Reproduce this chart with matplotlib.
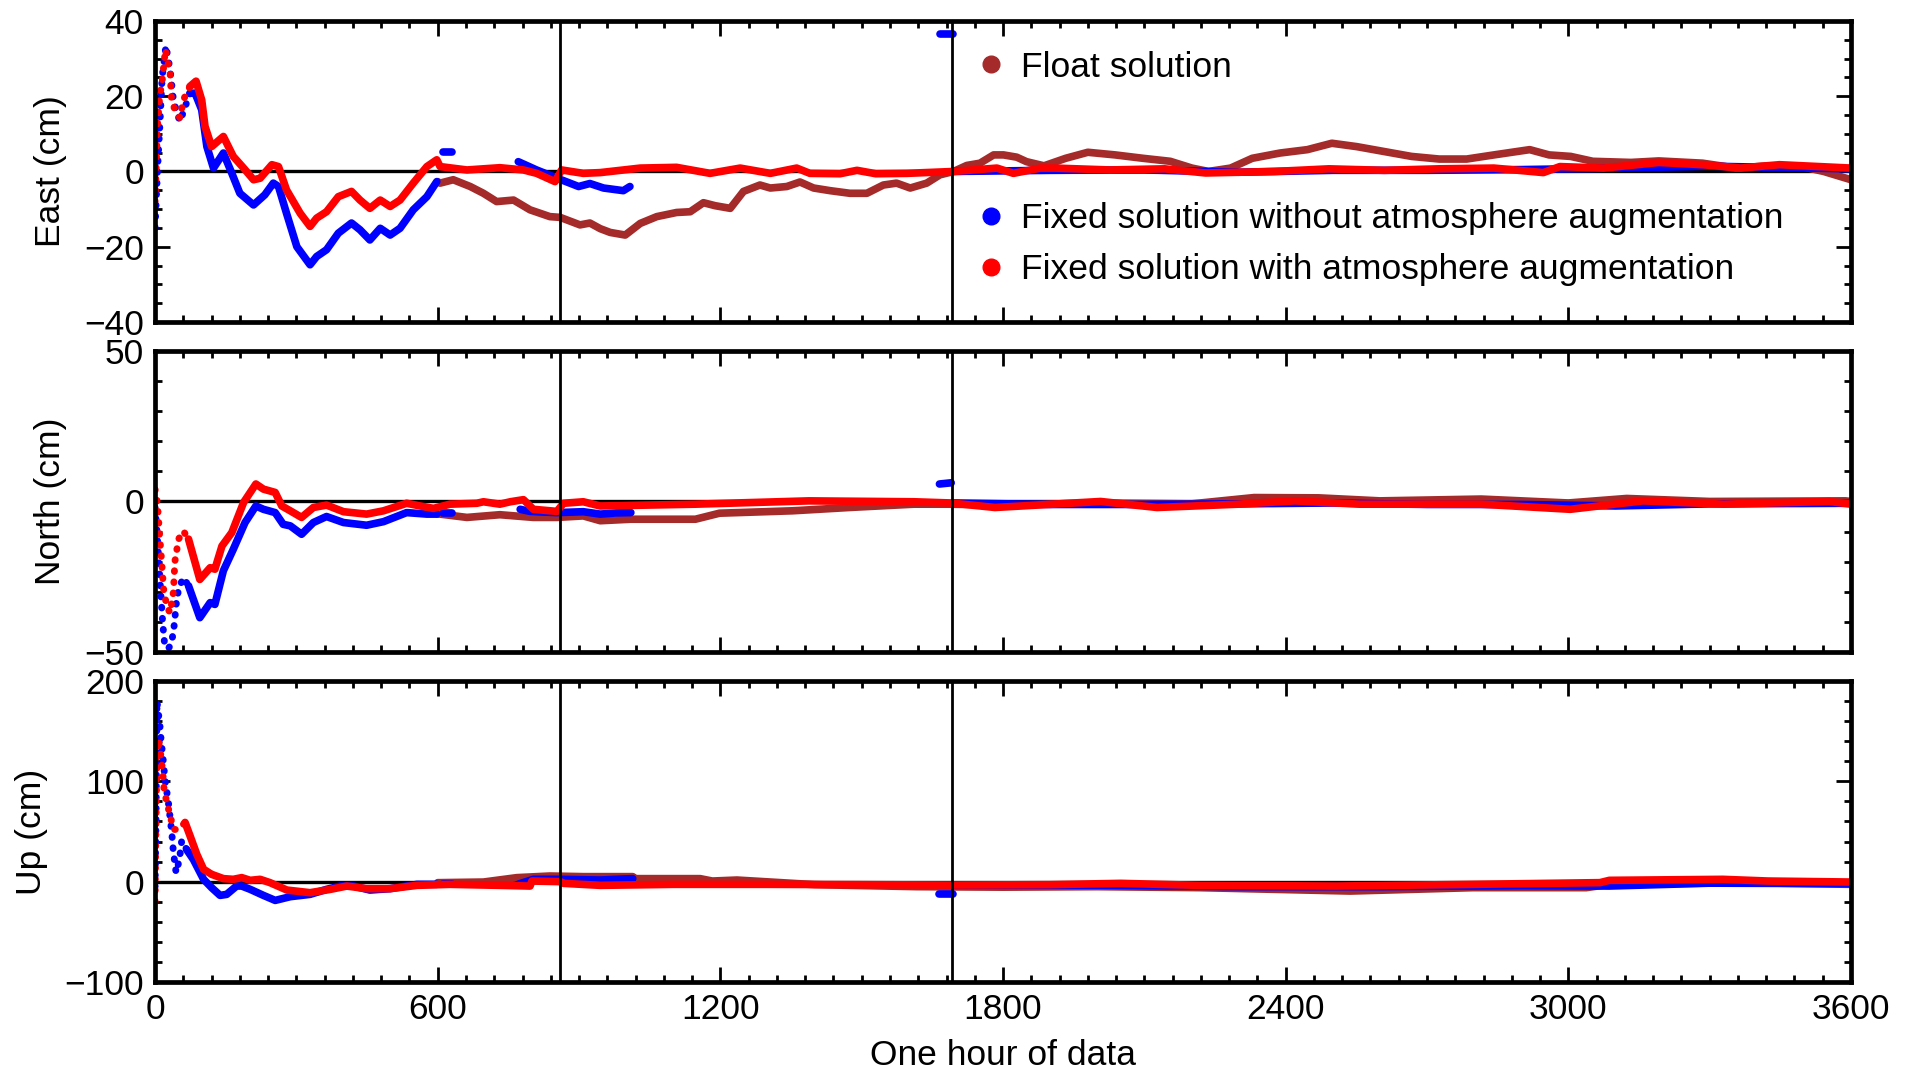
import numpy as np
import matplotlib
matplotlib.use("Agg")
from matplotlib import pyplot as plt
from matplotlib.ticker import MultipleLocator
from matplotlib.lines import Line2D

plt.rcParams['font.family'] = ['Liberation Sans', 'DejaVu Sans']

# ---------------- East (cm) ----------------
east_red_t = [0, 5, 10, 15, 22, 32, 35, 42, 53, 60, 74, 87, 99, 106, 120, 145, 166, 188, 209, 223,
              248, 262, 279, 308, 329, 343, 364, 389, 417, 435, 456, 478, 499, 520, 548, 577, 598,
              605, 662, 732, 782, 810, 849, 863, 909, 945, 1030, 1107, 1178, 1242, 1306, 1362, 1390,
              1454, 1490, 1530, 1596, 1695, 1787, 1822, 1879, 1910, 2027, 2143, 2230, 2376, 2492,
              2609, 2725, 2842, 2947, 2982, 3075, 3192, 3285, 3366, 3448, 3600]
east_red = [-8, 12, 20, 24, 32.4, 26, 19, 16.4, 14.2, 19, 22.6, 24, 19, 12, 6.6, 9.3, 4, 0.9, -2.2, -1.8,
            1.8, 1.3, -4.9, -11.1, -14.6, -12.4, -10.7, -6.7, -5.3, -7.6, -9.8, -7.6, -9.3, -7.6, -3.1, 1.3, 3.1,
            1.3, 0.4, 1.0, 0.4, -0.5, -2.7, 0.4, -0.5, -0.3, 0.9, 1.1, -0.5, 0.9, -0.5, 0.9, -0.5,
            -0.6, 0.3, -0.6, -0.5, 0, 0.9, -0.5, 0.9, 0.9, 0.4, 0.7, -0.4, 0, 0.7,
            0.3, 0.7, 0.9, -0.3, 1.3, 0.9, 2.4, 1.8, 0.9, 1.8, 0.9]

east_blue_t = [
    [0, 5, 10, 15, 23, 32, 38, 45, 53, 74, 85, 99, 110, 124, 145, 163, 180, 209, 233, 251, 262, 279,
     301, 329, 343, 364, 389, 417, 435, 456, 478, 499, 520, 548, 577, 598],
    [612, 630],
    [771, 810, 860, 899, 923, 952, 994, 1008],
    [1666, 1693],
    [1695, 1900, 2100, 2300, 2500, 2700, 2900, 3100, 3300, 3600],
]
east_blue = [
    [-15, 0, 12, 25, 33.4, 27, 20, 16, 13.3, 20.8, 20.8, 16.4, 6.6, 0.9, 4.9, -0.5, -5.8, -8.9, -6.2, -3.1, -4, -11.1,
     -20, -24.8, -22.6, -20.8, -16.4, -13.7, -15.5, -18.2, -15.1, -16.9, -15.1, -10.2, -6.7, -2.7],
    [5.1, 5.1],
    [2.6, 0.4, -2.1, -4, -3.2, -4.4, -5.1, -4],
    [36.4, 36.4],
    [0, 0.3, 0.4, -0.2, 0.3, 0.3, 0.5, 0.9, 1.4, 0.7],
]

east_float_t = [600, 605, 633, 669, 697, 725, 761, 796, 838, 860, 902, 923, 945, 966, 998, 1030, 1065,
                1107, 1136, 1164, 1189, 1221, 1249, 1284, 1306, 1341, 1369, 1398, 1433, 1475, 1511, 1546,
                1574, 1603, 1638, 1666, 1695, 1723, 1751, 1780, 1801, 1829, 1850, 1887, 1933, 1980, 2038,
                2097, 2155, 2201, 2236, 2283, 2329, 2388, 2446, 2498, 2551, 2609, 2667, 2726, 2784, 2842,
                2918, 2959, 3005, 3052, 3133, 3192, 3285, 3355, 3425, 3495, 3542, 3600]
east_float = [-2.7, -3.1, -2.2, -4, -5.8, -8, -7.6, -10.2, -12, -12.2, -14.2, -13.7, -15.2, -16.2, -16.9, -13.8, -12,
              -10.9, -10.7, -8.3, -9.1, -9.8, -5.3, -3.6, -4.4, -4, -2.8, -4.4, -5.1, -5.8, -5.8, -3.6,
              -3.1, -4.4, -3.1, -0.9, 0, 1.6, 2.2, 4.4, 4.4, 3.8, 2.6, 1.5, 3.5, 5.1, 4.4,
              3.5, 2.7, 0.9, 0, 0.9, 3.5, 4.9, 5.8, 7.5, 6.6, 5.3, 4, 3.3, 3.3, 4.4,
              5.8, 4.4, 4, 2.7, 2.4, 2.8, 2.2, 0.9, 1.5, 1.3, 0, -2.2]

# ---------------- North (cm) ----------------
north_red_t = [0, 3, 6, 10, 14, 18, 25, 32, 36, 39, 42, 50, 60, 71, 95, 117, 127, 142, 163, 188, 214, 230,
               255, 269, 287, 311, 336, 364, 400, 449, 485, 534, 563, 591, 626, 683, 697, 732, 754, 782,
               803, 853, 867, 909, 945, 1147, 1388, 1611, 1689, 1783, 2007, 2127, 2299, 2419, 2557,
               2815, 3004, 3158, 3330, 3554, 3600]
north_red = [4, 2, -3, -12, -20, -29, -35, -37, -33, -30, -20, -12.5, -9.8, -12.5, -25.9, -22, -22.5, -14.8, -10.3, -0.3, 5.8, 4.1,
             3, -1.5, -3.1, -5.3, -2, -1.2, -3.4, -4.2, -3.1, -0.6, -1.5, -2.3, -0.9, -0.6, -0.1, -0.9, -0.1, 0.6,
             -2.6, -3.3, -0.6, -0.1, -1.5, -0.9, 0.2, -0.1, -0.5, -2, 0, -2, -0.9, 0.2, -0.9,
             -0.9, -2.6, 0.2, -0.9, 0, -0.9]

north_blue_t = [
    [0, 4, 8, 12, 16, 20, 28, 35, 40, 45, 50, 60, 71, 95, 117, 127, 145, 166, 191, 214, 230, 255, 272,
     287, 311, 336, 364, 400, 449, 485, 534, 577, 598],
    [612, 630],
    [775, 796, 853, 909, 945, 980, 1010],
    [1665, 1690],
    [1695, 1900, 2100, 2300, 2500, 2700, 2900, 3100, 3300, 3600],
]
north_blue = [
    [-2, -10, -20, -30, -40, -47, -49, -47, -42, -34, -29, -25.3, -28, -38.6, -33.6, -34.2, -23, -15.9, -7, -1.5, -2.6, -3.7, -7.6,
     -8.1, -10.9, -7, -5, -7, -7.9, -6.7, -3.7, -4.2, -4.2],
    [-3.9, -3.9],
    [-2.6, -3.3, -3.7, -3.4, -4.2, -3.8, -3.7],
    [5.8, 6.2],
    [-0.5, -1, -1, -0.8, -0.5, -1, -1, -1.5, -0.8, -0.6],
]

north_float_t = [600, 605, 662, 732, 803, 853, 909, 945, 1009, 1147, 1198, 1353, 1474, 1611, 1689, 1800,
                 2000, 2200, 2333, 2470, 2600, 2815, 3000, 3124, 3300, 3588, 3600]
north_float = [-4.2, -4.2, -5.3, -4.4, -5.3, -5.3, -4.8, -6.4, -5.9, -5.9, -3.9, -3.1, -2, -0.9, -0.9, -1.2,
               -0.5, -0.8, 1.3, 1.2, 0.2, 0.8, -0.5, 1, 0, 0.2, 0]

# ---------------- Up (cm) ----------------
up_red_t = [0, 2, 4, 7, 10.6, 16.3, 19, 24.8, 32, 39, 49.5, 63.7, 74, 88.5, 103, 120, 145, 166, 184, 202,
            223, 244, 280, 329, 372, 407, 449, 499, 556, 626, 732, 796, 800, 860, 867, 945, 1100, 1300,
            1500, 1700, 1900, 2050, 2218, 2508, 2797, 3067, 3087, 3328, 3424, 3600]
up_red = [-20, 60, 122, 142, 132, 109, 92, 79, 66, 52, 52, 59, 46, 27.3, 12.3, 7.3, 3, 2.3, 4, 1.3,
          2.3, -1, -8.4, -11, -7.7, -4.4, -7, -7, -3.7, -2.7, -3.7, -4.4, 0.6, 0, -1.7, -3.7, -2.7, -2.7,
          -3, -3.4, -3, -1.7, -3.7, -4.4, -2.7, -1, 1.3, 2.3, 0.6, -0.4]

up_blue_t = [
    [0, 2, 4, 7, 10, 13, 17.7, 21, 28.3, 35.4, 39, 44.6, 51.7, 56.6, 67, 81.4, 103, 120, 138, 152, 173, 184,
     202, 230, 255, 287, 329, 364, 393, 421, 456, 499, 556, 598],
    [612, 630],
    [771, 803, 860, 945, 1014],
    [1664, 1694],
    [1695, 2000, 2300, 2600, 2900, 3087, 3300, 3600],
]
up_blue = [
    [-5, 60, 180, 168, 157, 140, 119, 102, 79, 49, 29, 9, 22, 41, 32, 22, 2.3, -6, -13.7, -12.7, -4.4, -4.4,
     -7.7, -13.7, -18.7, -15, -12.7, -7.7, -4.4, -4.4, -8.4, -7, -2.7, -2.7],
    [-2.7, -2.7],
    [-2.5, 2.3, 2.3, 1.6, 3],
    [-12.7, -12.7],
    [-3.5, -3.5, -5, -5, -4, -4.4, -1.5, -2],
]

up_float_t = [600, 605, 697, 768, 838, 909, 1014, 1019, 1157, 1183, 1235, 1400, 1616, 1800, 2000, 2218,
              2537, 2797, 3038, 3087, 3376, 3600]
up_float = [-1, -1, -0.4, 4, 5.6, 5, 5, 3, 3, 0.6, 1.6, -3, -5, -5.5, -5, -6,
            -9.4, -6, -6, -2.7, -1, -2.7]

vlines_t = [860, 1692]
labels = ["Float solution",
          "Fixed solution without atmosphere augmentation",
          "Fixed solution with atmosphere augmentation"]

c_float = "#a52a2a"
c_blue = "#0000ff"
c_red = "#ff0000"
FS = 25.5
LW = 5.5
T_DOT = 60


def draw_series(ax, t, y, color):
    t = np.asarray(t, float)
    y = np.asarray(y, float)
    early = t <= T_DOT
    if early.sum() > 1:
        n = early.sum()
        ax.plot(t[:n + 1], y[:n + 1], color=color, lw=LW - 0.5,
                linestyle=(0, (0.1, 1.5)), dash_capstyle='round')
        t, y = t[n:], y[n:]
    ax.plot(t, y, color=color, lw=LW, solid_capstyle='round', solid_joinstyle='round')


def style_axis(ax, ylim, major, minor, ylabel, show_x):
    ax.set_xlim(0, 3600)
    ax.set_ylim(*ylim)
    ax.axhline(0, color='black', lw=2.4, zorder=1)
    for v in vlines_t:
        ax.axvline(v, color='black', lw=2.0, zorder=5)
    ax.xaxis.set_major_locator(MultipleLocator(600))
    ax.xaxis.set_minor_locator(MultipleLocator(60))
    ax.yaxis.set_major_locator(MultipleLocator(major))
    ax.yaxis.set_minor_locator(MultipleLocator(minor))
    ax.tick_params(which='both', direction='in', top=True, right=True, width=2)
    ax.tick_params(which='major', length=11, labelsize=FS, pad=8)
    ax.tick_params(which='minor', length=5)
    if not show_x:
        ax.tick_params(axis='x', labelbottom=False)
    for s in ax.spines.values():
        s.set_linewidth(3.4)
    ax.set_ylabel(ylabel, fontsize=FS, labelpad=12)


fig = plt.figure(figsize=(19.12, 10.69), dpi=100)
left, width, height = 0.0811, 0.887, 0.2816
ax_e = fig.add_axes([left, 0.6988, width, height])
ax_n = fig.add_axes([left, 0.3901, width, height])
ax_u = fig.add_axes([left, 0.0814, width, height])

panels = [
    (ax_e, east_float_t, east_float, east_blue_t, east_blue, east_red_t, east_red),
    (ax_n, north_float_t, north_float, north_blue_t, north_blue, north_red_t, north_red),
    (ax_u, up_float_t, up_float, up_blue_t, up_blue, up_red_t, up_red),
]
for ax, ft, fv, bt, bv, rt, rv in panels:
    draw_series(ax, ft, fv, c_float)
    for tt, vv in zip(bt, bv):
        draw_series(ax, tt, vv, c_blue)
    draw_series(ax, rt, rv, c_red)

style_axis(ax_e, (-40, 40), 20, 5, "East (cm)", False)
style_axis(ax_n, (-50, 50), 50, 10, "North (cm)", False)
style_axis(ax_u, (-100, 200), 100, 20, "Up (cm)", True)
ax_u.set_xlabel("One hour of data", fontsize=FS, labelpad=9)

# legend in the East panel
def proxy(c):
    return Line2D([], [], marker='o', color=c, linestyle='none', markersize=12)

leg1 = ax_e.legend([proxy(c_float)], [labels[0]], loc='center left',
                   bbox_to_anchor=(0.472, 0.847), frameon=False, fontsize=FS,
                   borderpad=0, handlelength=1, handletextpad=0.35)
ax_e.add_artist(leg1)
ax_e.legend([proxy(c_blue), proxy(c_red)], labels[1:], loc='center left',
            bbox_to_anchor=(0.472, 0.258), frameon=False, fontsize=FS,
            borderpad=0, handlelength=1, handletextpad=0.35, labelspacing=0.5)

fig.savefig("out.png", dpi=100)
